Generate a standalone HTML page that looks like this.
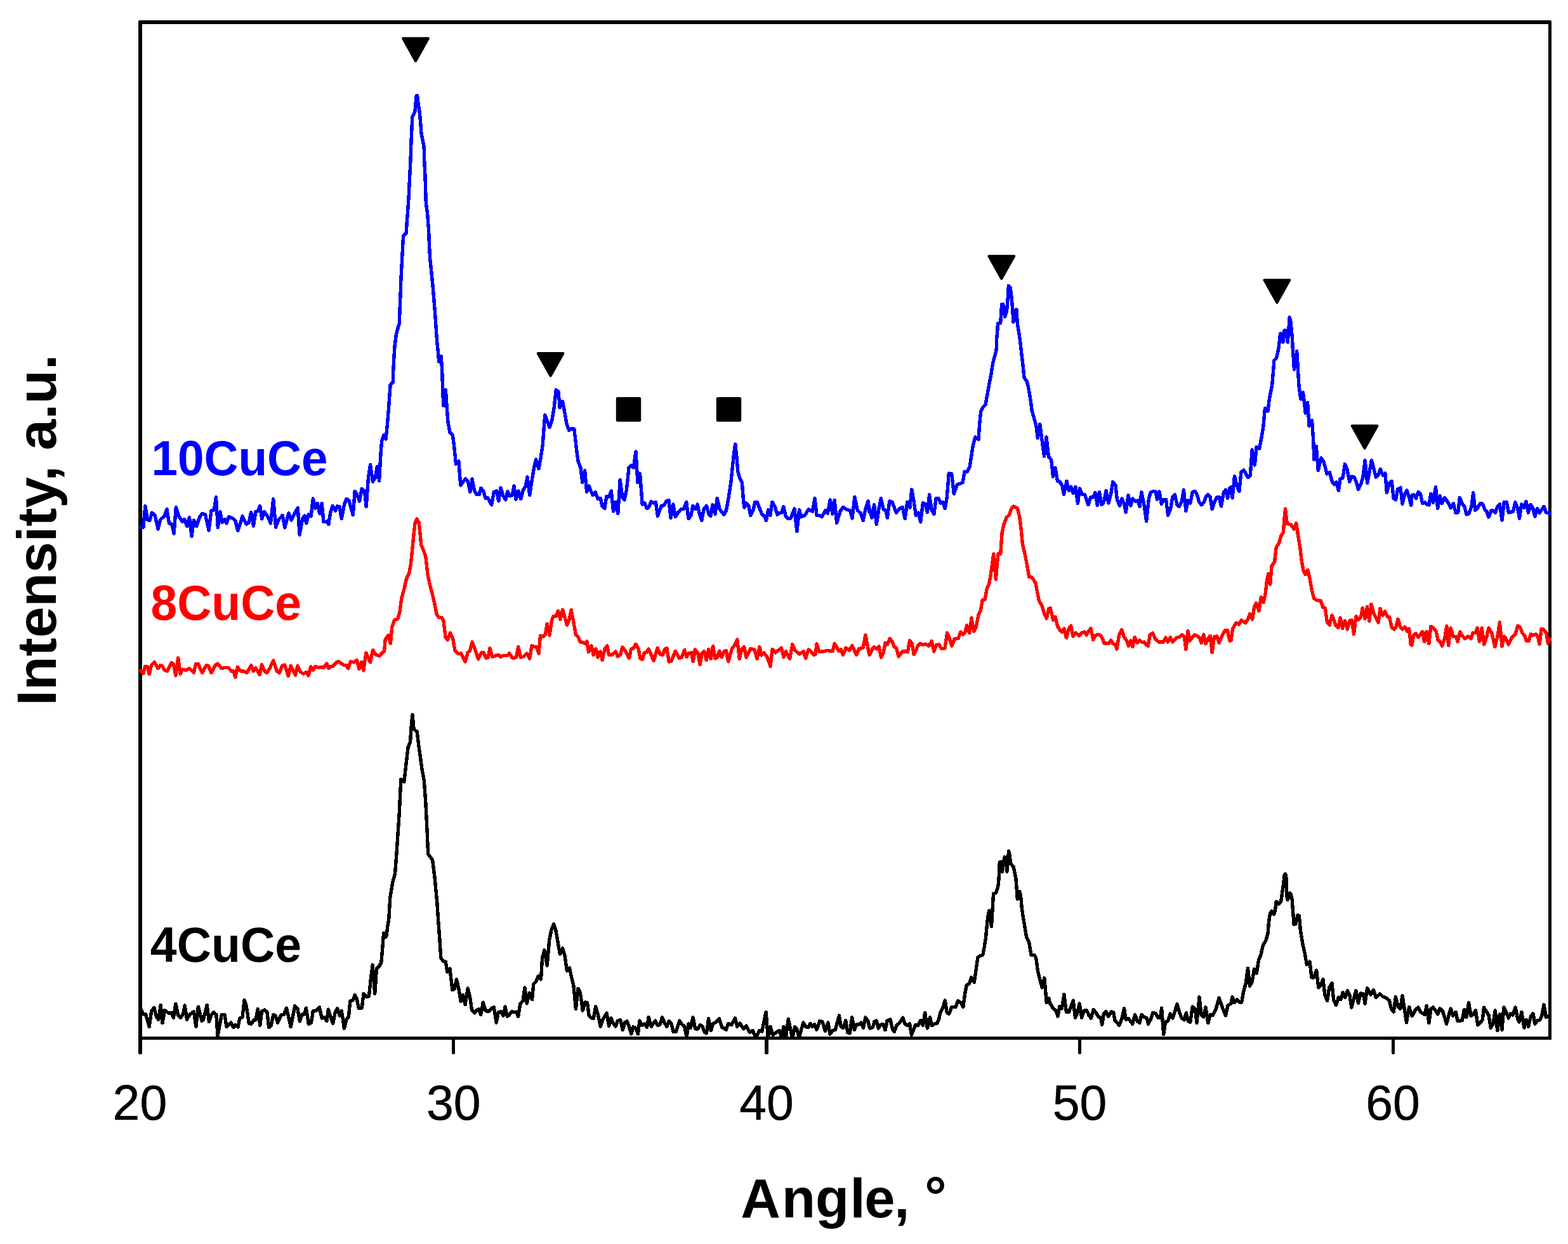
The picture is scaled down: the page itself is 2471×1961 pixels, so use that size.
<!DOCTYPE html>
<html lang="en">
<head>
<meta charset="utf-8">
<title>XRD patterns</title>
<style>
html,body{margin:0;padding:0;background:#fff;}
body{width:2471px;height:1961px;overflow:hidden;position:relative;font-family:"Liberation Sans",sans-serif;}
svg{position:absolute;left:0;top:0;display:block;}
text{font-family:"Liberation Sans",sans-serif;}
.b{font-weight:bold;}
.c{fill:none;stroke-width:5.4;stroke-linejoin:round;stroke-linecap:round;}
</style>
</head>
<body>
<svg width="2471" height="1961" viewBox="0 0 2471 1961" shape-rendering="crispEdges" text-rendering="optimizeLegibility">
<rect x="0" y="0" width="2471" height="1961" fill="#fff"/>
<defs><clipPath id="pa"><rect x="210" y="30" width="2240" height="1609"/></clipPath></defs>
<g fill="#000">
<rect x="218" y="33" width="6" height="1606"/>
<rect x="219" y="32" width="2225" height="6"/>
<rect x="2440" y="33" width="5" height="1606"/>
<rect x="218" y="1634" width="2227" height="5"/>
</g>
<g shape-rendering="crispEdges" clip-path="url(#pa)">
<polyline class="c" stroke="#000" points="221.4,1589.8 226.1,1598.9 229.6,1598.9 235.2,1618.4 238.7,1594 242.8,1588.4 246.3,1602.4 249.8,1607.2 253.3,1584.3 256,1612.8 259.5,1592.6 265.1,1596.8 270.7,1596.8 273.4,1604.4 276.9,1582.2 280.4,1599.6 284.6,1604.4 288.7,1598.2 291.2,1585 294.6,1607.2 298.5,1599.6 305.4,1594.7 308.9,1618.4 312.4,1587 318,1609.3 320.7,1606.5 326.3,1584.3 329.4,1610.7 333.3,1599.6 336.7,1596.1 340.9,1599.6 343,1633 349.3,1599.6 354.1,1599.6 356.9,1618.4 363.9,1612.1 368.1,1619.7 370.8,1615.6 375,1619 377.8,1605.1 382,1603.7 385,1576.6 388.2,1585.7 392.4,1613.5 395.9,1614.2 400.1,1607.9 402.8,1607.9 406.3,1590.5 409.8,1616.3 412.6,1594 416.8,1591.9 420.9,1595.4 423.7,1619.7 427.2,1616.3 430.7,1599.6 434.1,1601 437.6,1612.1 443.2,1599.6 447.4,1599.6 451.5,1589.1 458.2,1618.4 464.8,1585.7 468.9,1589.8 472.4,1610 475.9,1598.9 479.4,1598.9 482.4,1589.1 486.3,1614.2 490.5,1612.1 493.3,1594 499.5,1592.6 503.3,1587.7 507.2,1605.1 510,1603.7 515,1609.3 517.4,1591.2 520.9,1603.1 524.6,1613.5 528.5,1594.7 531.7,1589.8 535.5,1601 538.3,1593.3 542.4,1621.1 545.9,1607.2 549.4,1603.1 551.8,1578 556.4,1576.6 559.1,1568.3 561.9,1573.8 565.4,1589.1 570.3,1589.1 573,1566.2 577.9,1571.7 581.4,1570.4 584.2,1544.6 587.2,1521 590.7,1566.2 593.5,1526.5 597.4,1523.7 600.9,1516.8 603,1491.7 604.6,1470.9 606.4,1477.8 609.2,1475 610.6,1461.1 612.7,1450 614.7,1415.5 618.9,1390.2 622.5,1377.6 624.8,1348.2 627.3,1310.3 629.4,1278.8 630.9,1247.2 631.9,1228.3 636.8,1232.5 639.9,1205.2 643.1,1177.8 646.6,1169.4 647.9,1148.4 650,1126.3 652.1,1149.4 657.2,1153.6 659.9,1175.7 665.2,1213.6 668.3,1230.4 671,1268.2 673.1,1310.3 674.6,1346.1 681.6,1355.5 685.1,1383.9 688.7,1421.8 690.6,1450 692.7,1477.8 694.8,1509.8 698.3,1515.4 702.4,1516.1 704.8,1532.1 709,1527.2 712.9,1560.6 716.4,1558.5 719.4,1543.9 722.6,1557.1 726.1,1578.7 729.6,1568.3 733.1,1583.6 737.2,1557.8 740.7,1572.4 743.5,1591.9 747.7,1596.8 751.8,1591.9 754.6,1590.5 757.7,1599.6 761.3,1580.1 765.1,1593.3 769.9,1594.7 774.8,1589.1 778.3,1587.7 782.2,1612.1 785.2,1596.1 789.4,1594.7 792.9,1601 796.1,1587.1 799.2,1601.7 799.6,1602.1 802.4,1600 806.6,1594.4 810,1595.8 813.5,1595.1 816.7,1602.1 819.8,1582.6 824,1577.7 827,1556.9 830.2,1581.9 834.4,1565.2 838.6,1575.7 840.7,1551.3 844.8,1547.1 848.3,1538.8 852.5,1543.7 854.6,1509.6 858,1497.7 862.2,1522.1 865.7,1481.7 869.2,1465 872.7,1456.7 876.1,1467.8 882.4,1504 886.6,1495 890.1,1506.8 893.5,1530.4 897.4,1525.6 900.5,1540.2 904,1554.1 907.4,1590.3 910.9,1558.3 914.4,1565.2 918.3,1593.1 922.1,1579.8 925.5,1580.5 928.3,1601.4 931.1,1604.2 935.3,1605.6 938.7,1586.8 942.2,1598.6 946.4,1618.1 949.9,1607 956.1,1597.2 959.6,1617.4 963.1,1604.9 965.9,1612.5 970.1,1618.1 973.5,1609.1 977.7,1607.7 981.2,1623.7 984.7,1611.8 988.1,1609.8 990.9,1616.7 994.8,1629.9 997.9,1618.8 1001.4,1620.2 1005.5,1629.9 1008,1609.1 1011.8,1616 1016,1613.9 1019.5,1619.5 1022.2,1603.5 1026.4,1618.1 1032.7,1609.1 1036.6,1616.7 1040.3,1614.6 1043.5,1603.5 1047.3,1612.5 1050.8,1618.1 1054.2,1609.8 1057.7,1612.5 1061.2,1626.4 1065.4,1626.4 1070.9,1609.1 1075.1,1615.3 1078.6,1617.4 1082.1,1634.8 1085,1613.9 1088.1,1620.4 1092,1603.7 1095.7,1621.8 1099.9,1621.8 1103.4,1615.6 1106.9,1617.7 1110.4,1627.4 1113.4,1628.8 1116.6,1605.8 1120.4,1624.6 1123.6,1613.5 1128.4,1611.4 1133.3,1605.8 1137.5,1619 1141,1621.1 1144.4,1623.2 1147.6,1613.5 1152.8,1615.6 1158.4,1605.1 1161.8,1618.4 1166,1612.8 1171.6,1621.8 1176,1617 1181.3,1627.4 1186.2,1624.6 1191.1,1635.7 1196.6,1624.6 1200.8,1626 1207.1,1595.4 1210.5,1638.5 1214,1618.4 1218.2,1631.6 1223.1,1627.4 1227.9,1624.6 1232.1,1635.7 1234.9,1618.4 1238.4,1635.7 1242.3,1606.5 1248.8,1637.1 1252.6,1618.4 1255.8,1622.5 1259.2,1635.7 1265.9,1612.1 1270.4,1619 1273.8,1619.7 1277,1613.5 1280.1,1618.4 1283.6,1614.9 1287.1,1623.2 1291.9,1609.3 1296.1,1610.7 1300.3,1625.3 1304.9,1612.1 1307.9,1630.2 1312.1,1624.6 1316.3,1623.2 1322.5,1601 1325.3,1618.4 1328.8,1620.4 1332.7,1608.6 1335.8,1627.4 1339.2,1628.8 1342.7,1603.7 1346.6,1623.2 1349.7,1614.9 1353.8,1614.9 1357.3,1612.1 1360.5,1620.4 1363.9,1603.7 1367.8,1609.3 1370,1619 1371,1620.9 1375.2,1619.5 1378,1610.4 1381.2,1609.1 1384.2,1620.9 1387.7,1615.3 1391.5,1614.6 1395.1,1623.7 1398.1,1609.1 1403,1607 1406.5,1622.3 1409.3,1626.4 1412.7,1616.7 1417.6,1612.5 1422.8,1604.2 1426,1613.9 1430.1,1616.7 1433.6,1613.9 1436.4,1631.3 1442.7,1615.3 1446.8,1616.7 1451,1608.4 1454.5,1616.7 1457.7,1596.5 1461.4,1620.9 1465.6,1603.5 1468.4,1616.7 1473.3,1613.9 1476.7,1613.2 1479.5,1607 1481.6,1597.2 1485.8,1588.9 1489.3,1577.1 1492.1,1595.8 1495.5,1598.6 1499.7,1587.5 1506,1587.5 1509.4,1577.7 1514.3,1580.5 1517.8,1587.5 1520.6,1566.6 1523.4,1552.7 1527.5,1550.6 1530.6,1540.9 1535.2,1548.5 1537.3,1534.6 1540.8,1509.6 1544.2,1506.8 1548.7,1505.4 1551.2,1492.9 1553.3,1480 1555.2,1460.3 1556.6,1446.2 1558.7,1435.9 1562.5,1460.3 1564.7,1422.9 1565.5,1408.8 1569.2,1407.4 1571.5,1402.3 1573.4,1393.9 1574.3,1380.8 1575.3,1359.3 1577.6,1358.3 1579.5,1374.2 1581.3,1359.3 1583.2,1350.9 1585.3,1351.8 1586.8,1374.2 1588.4,1357.4 1589.6,1341.5 1591.2,1348.1 1592.6,1361.1 1597.2,1366.8 1599.1,1376.1 1601,1385.5 1602.4,1404.2 1603.3,1417.2 1607.1,1405.6 1608.9,1415.4 1610.3,1432.2 1612.2,1444.4 1614.1,1455.6 1615.9,1466.8 1617.7,1477.6 1621.5,1484.5 1624.9,1505.4 1629.8,1505.4 1632.6,1509.6 1635.4,1530.4 1638.8,1544.4 1642.3,1556.9 1645.8,1541.6 1649.3,1580.5 1652.8,1573.6 1655,1583.3 1656,1583.5 1660.2,1590.4 1664.3,1593.2 1667.1,1602.3 1669.9,1586.3 1673.4,1589.7 1676.9,1567.5 1680.4,1595.3 1684.5,1595.3 1688,1586.3 1691.2,1577.2 1694.5,1604.4 1697.7,1597.4 1701.2,1582.1 1704.7,1604.4 1708.2,1593.2 1712.4,1592.5 1715.8,1600.2 1719.3,1605.1 1723.1,1591.8 1727,1596 1731.1,1603 1734.6,1604.4 1736.7,1615.5 1739.5,1597.4 1743,1594.6 1746.9,1602.3 1751.3,1594.6 1754.8,1596 1756.9,1608.5 1763.8,1616.2 1768,1605.7 1771.5,1589.7 1774.3,1607.1 1778.4,1605.7 1784.7,1614.1 1788.6,1599.5 1792.4,1609.9 1795.8,1612.7 1799,1599.5 1803.5,1603.7 1807,1604.4 1809.5,1614.1 1813.2,1607.1 1816.7,1596.7 1820.9,1597.4 1825.1,1604.4 1828.5,1604.4 1830.6,1589 1833.7,1630.8 1836.5,1611.3 1840.4,1609.9 1844.3,1598.1 1848,1605.1 1851.5,1594.6 1855,1582.8 1859.1,1597.4 1862.6,1605.1 1866.1,1607.8 1869.3,1596.7 1872.4,1609.9 1875.8,1611.3 1879.3,1587 1883.5,1590.4 1886,1612.7 1890,1571.7 1893.2,1600.2 1896.7,1603 1899.9,1587.7 1903.7,1612.7 1907.1,1599.5 1911.3,1600.2 1916.2,1590.4 1921.1,1573 1926.6,1589 1931.5,1600.9 1935,1584.9 1940,1582.1 1942,1571.5 1945.2,1580.5 1949.3,1575.7 1953.5,1579.8 1956.7,1579.8 1959.8,1562.4 1963.3,1549.9 1966.5,1526.3 1969.5,1554.1 1973,1548.5 1976.5,1527.7 1980.4,1533.9 1983.4,1513.7 1986.9,1505.4 1990.4,1490.1 1994.6,1483.1 1998,1472 1999.3,1455.2 2000.7,1444.7 2002.1,1439.1 2003.8,1436.3 2007.7,1441.2 2009.4,1436.3 2010.4,1427.1 2011.2,1421.5 2013.3,1422.2 2015.4,1425 2018.2,1421.5 2019.5,1416.6 2020.3,1409.6 2021.7,1400.5 2023.1,1389.3 2024.2,1379.5 2025.6,1377.7 2027,1383.7 2027.9,1413.1 2029.1,1418.4 2032.6,1407.5 2034.3,1409.6 2036.1,1417.3 2037.1,1430.6 2038.2,1444.7 2039.2,1457.3 2041.7,1456.6 2045.2,1442.6 2047.3,1443.3 2048.4,1455.2 2049.5,1467.8 2053,1488.7 2056.5,1504 2059.3,1520.7 2064.1,1515.8 2066.9,1540.9 2070.4,1540.9 2074.6,1529.7 2077.8,1556.9 2081.5,1552.7 2085,1543.7 2087.8,1568 2091.6,1577.7 2094.8,1556.9 2098.9,1549.9 2101.7,1576.4 2105.5,1584.7 2109.4,1572.2 2112.8,1575.7 2116.3,1564.5 2119.8,1572.2 2123.3,1561.7 2126.8,1568 2129.8,1588.2 2133.7,1573.6 2136.8,1561.7 2140.4,1581.2 2144.1,1565.9 2148.3,1566.6 2151.1,1581.9 2154.6,1557.6 2160.1,1568 2164.6,1560.4 2168.2,1572.2 2174.8,1566.6 2179.6,1571.5 2183.1,1572.2 2189.4,1577.1 2192.8,1591 2196.3,1595.1 2199.4,1571.5 2203.3,1586.8 2206.8,1590.3 2210,1569.4 2213,1588.9 2216.5,1611.8 2220.7,1587.5 2225,1601.4 2227.1,1598.9 2230.8,1591.7 2235,1588 2238.6,1595.3 2242.2,1597.7 2245.2,1599.5 2248.2,1585.6 2251.9,1612.8 2254.9,1590.4 2258.5,1588 2262.1,1592.9 2265.7,1598.9 2269,1589.8 2273.6,1594.1 2279.6,1614 2283.2,1600.1 2286.2,1589.8 2289.8,1601.3 2294.1,1595.3 2297.1,1609.7 2301.3,1609.1 2304.3,1608.5 2307.3,1591.7 2311,1603.7 2314.6,1580.8 2318.2,1601.3 2321.8,1598.9 2325.4,1592.9 2328.8,1615.8 2332.7,1612.2 2336.3,1607.3 2338.4,1588 2342.9,1595.3 2345.9,1600.1 2349.3,1620.6 2353.2,1613.4 2356.2,1592.9 2359.8,1624.8 2363.4,1598.9 2367,1623.6 2369.8,1588 2373.7,1595.3 2377.3,1604.9 2380.9,1597.7 2383.9,1600.1 2388.1,1588 2391.8,1606.1 2394.2,1611 2397.8,1595.3 2402,1620 2405,1607.3 2408.6,1618.2 2412.3,1602.5 2415.9,1597.7 2418.9,1614 2423.1,1608.5 2426.7,1607.9 2429.7,1601.3 2433,1583.8 2436.4,1603.7 2440.2,1601.3 2442.6,1600.1"/>
<polyline class="c" stroke="#f00" points="221.4,1057.2 225.9,1061.4 228.9,1050.3 232.4,1051 235.2,1062.8 238.7,1048.2 243.5,1044 249.1,1053.7 252.6,1048.9 255.4,1049.6 259.5,1056.5 263.7,1057.9 270,1044.7 273.4,1046.8 276.9,1064.9 280.7,1037 284.3,1062.1 287.4,1055.1 292.9,1056.5 298.5,1053.7 305.4,1060 308.5,1046.8 312.4,1046.8 318.7,1060.7 324.9,1048.9 328.4,1049.6 333,1060.7 338.8,1049.6 343,1046.1 349.3,1053.7 354.1,1052.4 359.7,1052.4 364.6,1057.9 368.1,1057.9 370.8,1067.7 374.3,1051.7 379.2,1057.9 384.1,1057.9 388.9,1060.7 395.9,1048.9 399.4,1057.9 402.8,1053 409.1,1063.5 412.6,1047.5 416.1,1056.5 420.2,1060.7 425.1,1053.7 430.7,1041.2 436.2,1057.9 440.4,1060.7 444.6,1049.6 448.8,1048.2 454.3,1065.6 458.2,1049.6 461.3,1055.1 465.5,1064.2 468.9,1049.6 473.8,1059.3 478,1062.1 482.8,1059.3 486.3,1064.9 489.8,1051 493.3,1056.5 496.8,1050.3 501.6,1052.4 505.8,1051.7 510,1052.4 515,1046.1 517.7,1053.7 521.3,1050.4 524.5,1050.4 530.3,1043.9 533.6,1043 540.9,1048 545.8,1048.8 548.8,1053.7 552.4,1043 558.1,1043.9 562.5,1040.6 565.8,1054.5 569.6,1043.9 572.8,1057 576.9,1029.1 583.5,1043.9 587.6,1025 592.5,1032.4 598.2,1034 602.3,1029.1 605.6,1026.7 607.2,1007.9 612.1,1001.3 615.4,1014.4 617.8,988.2 621.9,976.8 626.8,975.9 630.1,963.7 632.6,944 636.7,929.3 640.4,912.9 644.8,903.1 647.3,890 649.8,865.5 652.2,840.9 654.2,823.7 657.1,818 660.1,823.7 662,840.9 663.7,858.9 668.6,870.4 671,878.6 673.8,904.7 677.6,922.7 681.7,937.5 684.9,952.2 688.2,968.6 691.5,973.5 696.4,973.5 698.9,978.4 702.1,1004.6 705.4,1008.7 709.5,998 713.6,1006.2 716.9,1025 721.8,1030.8 726.7,1030 733.2,1043 737.3,1028.3 740.6,1025.9 744.2,1011.9 748.8,1024.2 753.7,1039 758.6,1029.1 761.9,1028.3 766,1037.3 769.2,1036.5 772,1021.8 775.8,1035.7 781.5,1033.2 785.6,1032.4 788.9,1035.7 793.8,1033.2 800,1033.2 802.8,1029.9 807.3,1036.9 810,1037.6 813.5,1036.2 816.7,1019.5 820.5,1036.2 825.4,1034.8 830.2,1029.9 834.8,1038.3 837.9,1018.1 842,1019.5 845.5,1020.2 849,1029.9 851.5,1002.1 856,1003.5 859.4,1000 862.2,983.3 866,1001.4 869.2,979.8 872,971.5 876.1,971.5 879.6,963.1 883.1,976.4 886.6,961 893.5,985.4 896.3,979.8 900.2,961.7 904,981.2 907.4,1000.7 910.9,1003.5 914.4,1011.8 918.6,1012.5 922.1,1014.6 924.8,1011.1 927.6,1027.8 932.2,1018.1 935.3,1032.7 939.2,1023 942.2,1036.2 946.1,1027.1 949.2,1040.4 953.4,1021.6 956.8,1018.1 959.6,1032.7 963.8,1032.7 970.1,1027.1 973.5,1034.8 977.7,1032 980.9,1020.2 985.4,1025.7 991.6,1037.6 994.4,1023 997.9,1022.3 1002.1,1015.3 1006.2,1023 1009,1038.3 1012.5,1039.7 1015.3,1029.2 1018.8,1028.5 1022.2,1023 1026.4,1032.7 1030.2,1041.7 1036.1,1021.6 1040.3,1031.3 1044.5,1032.7 1047.3,1023.7 1050.8,1021.6 1054.2,1043.1 1057.7,1042.4 1064.4,1026.4 1070.2,1037.6 1074.4,1036.2 1078.6,1024.4 1082.1,1035.5 1085,1029.9 1089.5,1028.9 1092.3,1042.8 1095.3,1024 1099.9,1029.6 1103.1,1047.7 1106.2,1029.6 1109.7,1026.8 1113.1,1040.7 1116.6,1023.3 1120.1,1038.6 1123.6,1018.4 1127,1037.9 1130.5,1036.5 1133.7,1026.1 1137.5,1035.8 1141,1026.8 1144.4,1025.4 1147.6,1042.8 1153.5,1022.6 1158.4,1015.7 1161.8,1008 1165.3,1038.6 1168.8,1023.3 1172.7,1019.8 1176,1036.5 1182.7,1022.6 1189,1024 1193.1,1038.6 1196.9,1019.8 1200.1,1033 1203.9,1028.9 1209.1,1035.8 1214,1050.4 1217.2,1023.3 1221.7,1028.9 1226.5,1025.4 1231.4,1021.2 1234.9,1035.8 1238.6,1026.8 1244.6,1038.6 1248.8,1015.7 1253,1025.4 1259.9,1031 1266.2,1026.8 1269.7,1037.9 1273.8,1024 1277.3,1026.1 1282.2,1032.4 1285,1031.7 1287.1,1015 1291.2,1027.5 1298.2,1026.8 1303.8,1025.4 1312.1,1026.8 1315.2,1014.3 1321.8,1026.1 1325.3,1024 1328.5,1032.4 1333,1021.2 1338.5,1025.4 1343,1017.7 1349.7,1032.4 1353.8,1022.6 1360.1,1021.2 1363.9,1001 1367.8,1021.2 1370,1032.4 1370.8,1031.7 1374.7,1023 1377.9,1019.9 1381.8,1023 1385,1019.1 1388.5,1036.4 1392.1,1029.3 1395.2,1013.5 1398.4,1015.9 1402.3,1006.4 1406.3,1012 1409.4,1019.9 1412.6,1021.4 1416.2,1034.9 1422.1,1027 1426.8,1027 1430.4,1027.8 1433.6,1009.6 1437.1,1014.3 1440.2,1031.7 1446.5,1018.3 1450.5,1014.3 1454.4,1016.7 1458.4,1015.1 1463.9,1018.3 1468.3,1010.4 1471.8,1027 1475.7,1016.7 1479.7,1015.9 1483.6,1022.2 1489.1,1022.2 1492.6,997.8 1496.2,1005.7 1499.9,1018.3 1504.1,1007.2 1510.4,1006.4 1513.6,996.2 1517.5,1000.1 1520.7,997 1523.5,985.9 1527.8,997.8 1531,974.1 1534.6,995.4 1538.1,988.3 1542,969.4 1545.2,963.1 1548.3,945.7 1552.3,944.9 1555.1,928.3 1558.6,921.2 1561.7,903.1 1565.7,873.1 1569.3,913.3 1572.8,873.1 1576.7,873.1 1579.1,840 1582.2,825.8 1586.2,815.5 1590.1,812.3 1594.1,801.3 1597.5,798.1 1603.5,801.3 1606.7,814.7 1609.1,833.7 1611.4,857.3 1615.4,874.7 1618.5,890.5 1621.7,909.4 1626.4,910.2 1631.9,918.9 1634.3,931.5 1637.5,947.3 1642.2,955.2 1645.4,966.2 1649.3,974.9 1652.5,959.9 1655,958.3 1656.7,964 1659.5,977.2 1663,972.4 1666.4,986.3 1669.9,993.2 1673.4,996 1676.9,991.1 1680.6,1005.7 1684.5,990.4 1687.6,986.3 1690.8,1003 1695,997.4 1700.5,1002.3 1704.7,997.4 1708.9,996 1712.1,1000.9 1715.8,994.6 1719,990.4 1722.8,1008.5 1726.3,1001.6 1730.4,1000.2 1734.6,1001.6 1738.1,1007.8 1740.2,1014.1 1744.4,1014.1 1747.1,1014.8 1750.6,1009.2 1754.1,1014.8 1757.6,1015.5 1759.9,1023.1 1763.8,1000.2 1767.7,992.5 1771.5,1004.4 1775.7,1009.9 1778.4,1018.3 1781.9,1009.9 1784.7,1019.7 1788.2,1004.4 1792.4,1013.4 1795.8,1009.2 1800,1012.7 1802.8,1012 1809.1,1018.3 1812.5,1000.2 1816.7,998.1 1820.9,1007.8 1826.4,1012 1833.4,1012 1836.9,1005.1 1840.4,1012 1844.3,1004.4 1848,1012 1854.3,1005.1 1858.4,1004.4 1862.6,1000.9 1866.1,1003 1868.9,1023.8 1872.1,994.6 1875.1,1009.9 1882.1,1000.9 1887,1002.3 1890.5,1005.7 1893.2,1013.4 1896.7,1000.2 1899.9,1014.8 1903.7,1007.1 1907.1,1002.3 1910.2,1028.7 1913.4,1003.7 1917.6,1003 1921.1,1013.4 1925.2,1003.7 1930.8,993.2 1934.3,993.2 1937.8,1009.9 1940,1009.9 1942.5,991.2 1947.8,982.1 1952.4,984.4 1956.2,977.6 1963,982.1 1966.8,975.3 1969.8,967.7 1973.6,976 1976.7,956.3 1979.7,951 1984,963.1 1987.3,941.1 1991.1,949.5 1994.1,935.8 1996.4,915.3 1998.7,904.6 2001.7,921.3 2004,892.5 2008.6,885.6 2011.3,862.1 2015.4,856.7 2018.5,845.3 2022.3,839.3 2024.1,816.5 2025.6,802 2028.3,825.6 2034.4,827.1 2039.3,834 2042.8,824.8 2045.8,845.3 2048.9,863.6 2051.1,883.3 2054.2,900.1 2057.2,905.4 2061,898.5 2064.1,912.2 2067.1,928.9 2070.6,943.4 2075.5,946.4 2081.5,947.2 2084.6,957.1 2088.4,958.6 2091.4,980.6 2095.2,985.2 2099,970 2102.1,976.8 2105.1,985.9 2108.9,989.7 2112.2,973.8 2115.7,990.5 2119.5,978.3 2123.3,992 2127.1,978.3 2130.2,977.6 2133.5,999.6 2137,971.5 2140.8,976.8 2144.6,973 2147.2,958.6 2151,975.3 2154.5,956.3 2157.8,979.1 2160.9,952.5 2164.4,965.4 2168.2,973 2172,981.4 2175,959.3 2178.8,970 2182.6,963.9 2186.4,972.2 2189.7,973 2193.2,989 2197,992 2200.1,988.2 2203.1,976 2206.9,989 2210,992 2213.8,988.2 2217.6,995 2220.6,991.2 2223.2,1015.6 2225,1017.1 2227.7,1002 2231.1,998.4 2235,1004.4 2238.6,1000.2 2241.6,995.4 2244.6,1011.7 2248,995.4 2251.9,1014.7 2254.9,987.5 2259.1,989.9 2263.3,995.4 2266.1,1009.2 2269.3,1011.1 2272.4,1018.3 2276.6,1006.8 2279.8,986.9 2282.6,1017.7 2286.2,989.9 2289.8,1003.2 2294.7,1003.2 2297.1,1011.7 2300.7,996 2304.3,1002 2308.5,1006.8 2313.4,1003.2 2318.2,1006.8 2321.2,997.2 2325.4,997.2 2328.1,989.9 2331.5,1011.1 2335.3,989.9 2338.7,1015.9 2342.9,1003.2 2345.9,989.9 2350.7,997.2 2355.8,1019.5 2359.8,1004.4 2363.4,980.9 2367,1018.9 2370.3,1003.2 2373.7,1008 2377.3,1015.9 2382.1,1005.6 2388.1,999.6 2391.8,986.3 2395.4,988.7 2399,997.8 2402.6,1002 2405.6,1010.4 2409.2,1010.4 2412.3,999.6 2415.9,1001.4 2420.7,999.6 2423.7,1004.4 2426.1,1015.3 2429.1,991.2 2432.8,992.4 2437,998.4 2439.4,1014.1 2442.6,1008"/>
<polyline class="c" stroke="#00f" points="221.4,830.4 225.9,831.1 228.9,797.7 232.4,819.3 235.9,820.7 239.3,808.2 244.2,812.4 249.1,833.9 252.6,819.3 259.5,813 263,802.6 266.5,824.9 270.7,826.3 274.1,840.9 277.3,799.8 281.8,813.7 287.4,822.1 290.8,818.6 294.6,829.7 298.5,815.8 302,845.7 305.4,820 309.6,829.7 314.5,815.1 318.7,809.6 323.5,811 329.1,836 333,804.7 337.4,804 340.5,783.8 343.3,831.8 346.9,806.8 350,823.5 354.1,818.6 356.9,824.9 360.8,814.4 368.1,817.9 370.8,820.7 374.7,836.7 379.2,823.5 382,813.7 388.2,826.3 392.4,823.5 395.6,807.5 399.4,829 402.8,806.8 406.3,805.4 409.8,797.7 412.6,817.9 416.5,806.8 422.3,815.1 426.5,824.9 430.7,786.6 434.6,831.1 439,819.3 445.3,812.4 448.8,831.8 455,808.9 459.2,820 464.8,808.2 469.3,800.5 472.1,843 476.6,817.9 480.1,813 482.8,824.9 486.3,811 490.2,813.7 493.3,785.9 496.8,801.2 500.2,793.6 503.7,809.6 507.2,793.6 510,822.8 515,822.1 517.8,826.5 520.8,807.5 524.1,797.3 528.5,805.3 531.4,798 535.1,798.7 538.3,817.7 542.4,795.8 546,786.3 549.7,788.5 556.3,811.9 559.2,774.6 562.1,778.3 566.5,790 570.1,770.2 574.5,774.6 577.2,798.7 580.4,753.4 583.6,732.3 587.4,759.3 591.3,753.4 594.3,735.2 597.6,757.8 600.1,714 601.6,695 604.5,686.2 608.1,692.1 610.3,670.1 612.5,643.8 614,621.9 615.2,606.7 619.2,602.3 619.9,581.8 621.1,559.9 622.1,545.3 624.3,527.8 626.5,519 629.4,510.2 630.1,486.9 631.1,463.5 631.9,440.1 633,419.7 634.1,399.2 635.2,378.8 635.7,371.8 640.1,367.4 641.1,352.1 642.5,334.5 644,312.6 645,290.7 646.2,268.8 647.2,246.9 647.9,225 649.1,200.1 649.8,184.1 653.8,176 655,163.6 656.1,151.2 657.6,150.5 659.3,165.1 660.8,173.8 662.3,188.4 664,210.4 668.1,230.8 668.8,254.2 669.9,276.1 670.6,298 671.3,319.9 673.7,337.5 675.1,356.4 675.9,370 676.4,384.6 677.6,406.5 679.8,428.4 682,450.4 683.9,472.3 685.6,494.2 687.1,516.1 688.6,538 690.8,558.5 691.5,570.1 695.1,561.4 696.6,581.8 697.3,603.7 698.7,639.5 702.4,614.6 704.3,643.8 706,665.8 709,681.8 713.4,686.2 715.5,702.3 718.5,731.5 722.9,727.1 725.8,765.1 729.4,760 733.5,754.9 737.5,759.3 740.8,775.4 744,754.9 747.7,773.9 751.4,779.7 755,779.7 757.9,769.5 761.6,773.9 765.2,785.6 768.9,784.9 774.7,795.8 778.4,775.4 782.8,773.9 785.7,790 789.1,768.8 792.7,781.2 796.7,787.8 800,774.6 803.3,781.9 806.9,781.2 810.1,765.9 813.1,787.1 816.9,773.9 820.8,786.3 824.5,772.4 828.1,766.6 831,752 834.7,780.5 837.6,760.7 841.3,738.8 844.6,724.2 849,738.8 852.2,721.3 855.1,702.3 857.3,673.1 858.8,654.1 862.5,664.3 866.1,673.8 869.8,662.8 873.4,640.9 876.3,614.6 880,617.5 882.2,642.4 886.6,632.9 889.5,648.2 893.1,668.7 896.8,678.2 900.4,676 904.8,676 907,695 909.2,714 911.4,728.6 915.1,737.4 917.7,760.7 921.6,741.8 924.6,775.4 928.2,765.9 931.1,773.9 934.1,780.5 938.4,776.1 942.1,786.3 946.5,785.6 948.7,797.3 952.8,801.7 955.7,782.7 959.6,783.4 963.3,773.9 966.5,806 970.3,791.4 973.8,809.7 977.2,756.4 980.8,784.1 984,787.8 987.4,772.4 991,737.4 994.7,733.7 998.4,737.4 1002,711.8 1004.9,760.7 1008.6,746.9 1012.2,795.1 1015.9,792.9 1019.5,801.7 1022.9,798.7 1026.1,790.7 1029.8,792.9 1033.4,791.4 1036.4,813.4 1042.2,797.3 1046.6,796.6 1050.2,790 1053.9,788.5 1057.1,816.3 1060.9,795.1 1064.4,814.8 1068.5,808.2 1073.6,802.4 1077.3,802.4 1081.7,791.4 1085,817.7 1085.3,817.7 1089,811.9 1091.9,797.3 1096,802.4 1099.2,795.1 1102.4,810.4 1105.8,820.7 1109.2,802.4 1113.5,797.3 1117.1,810.4 1120,813.4 1122.9,795.8 1127,810.4 1130.2,785.6 1134.3,803.1 1140.9,811.2 1144.5,804.6 1148.2,784.1 1151.8,760.7 1154.8,731.5 1157,711.1 1158.8,700.1 1161.3,724.2 1162.8,743.2 1165.7,753.4 1169.4,760.7 1171.6,790 1173,800.2 1175.9,792.9 1179.6,796.6 1182.8,812.6 1186.9,804.6 1189.8,791.4 1193.5,791.4 1197.1,801.7 1200.8,810.4 1204.4,813.4 1207.4,820.7 1210.6,803.9 1213.9,812.6 1216.9,791.4 1221.2,798.7 1224.9,811.2 1228.6,808.2 1231.5,808.2 1234.8,798.7 1238.1,813.4 1242.4,817.7 1246.1,817 1251.9,801.7 1255.9,837.5 1259.5,803.9 1262.9,814.8 1268.7,811.9 1273.9,803.1 1277.5,804.6 1280.4,806 1284.1,785.6 1287,812.6 1291.4,812.6 1295,814.8 1300.9,804.6 1304.5,809 1308.2,787.8 1311.9,810.4 1315.2,788.5 1318.7,824.3 1324.3,805.3 1328.7,799.5 1333.8,803.1 1339.6,804.6 1343,817 1346.9,783.4 1351.3,804.6 1356.4,809 1360.1,820.7 1364.5,800.2 1368.1,790 1370,807.5 1370.3,801.7 1374,816.3 1377.7,795.8 1381.3,826.5 1385,801.7 1388.3,785.6 1392.3,803.1 1395.9,804.6 1398.4,816.3 1401.8,790 1406.1,791.4 1412.3,808.2 1417.8,801.7 1422.2,799.5 1426.2,817.7 1429.8,791.4 1433.9,800.2 1436.8,771.7 1440.1,790 1443.4,812.6 1447.4,808.2 1450.7,822.9 1454.4,792.9 1458,794.4 1461.4,807.5 1464.6,779.7 1468.3,804.6 1471.9,810.4 1475.1,785.6 1478.9,785.6 1482.1,792.9 1485.8,791.4 1489.4,801.7 1492.4,782.7 1495.3,746.1 1499.7,746.9 1503.3,778.3 1508.4,763.7 1513.6,762.2 1517.2,760.7 1520.1,743.2 1523.8,743.9 1528.2,735.9 1530.4,721.3 1533.3,702.3 1536.9,689.1 1542.1,692.8 1543.5,670.1 1545.7,648.2 1549.4,641.6 1553,638 1555.9,621.9 1559,604.7 1562,589.5 1564.3,574.3 1567.2,562.6 1570.1,552.1 1570.7,534.6 1571.9,519.4 1572.5,510 1576.6,509.4 1577.7,494.8 1578.6,479.6 1580.7,479.6 1583.6,499.5 1586.5,490.1 1588.3,469.1 1589.4,450.4 1592.3,453.9 1594.1,469.1 1595.9,490.1 1596.8,507.7 1599.9,489 1601.9,487.8 1603.4,511.2 1605.8,525.2 1608.1,541.6 1609.9,557.9 1612,575.5 1614,595.3 1618.1,601.2 1620.4,609.4 1623.9,629.2 1626.1,646.8 1629.7,659.9 1632.7,670.1 1635.3,690.6 1638.8,668.7 1642.2,695 1645.5,719.1 1649,689.1 1652.4,719.8 1655,722.8 1656.7,724.9 1659.5,751.3 1663,737.4 1666.4,758.3 1670.6,759.7 1674.1,766.6 1676.5,779.1 1681,758.3 1684.5,773.6 1687.6,767.3 1691.2,777.7 1695,767.3 1698.4,793.7 1701.5,770.1 1705.4,779.1 1709.6,779.8 1715.1,795.8 1718.6,784 1722.8,784 1726,776.4 1729.3,796.5 1732.5,775.7 1736,795.8 1739.5,791.7 1743.2,773.6 1746.9,793.1 1750.6,779.1 1753.8,759.7 1758,765.2 1760.4,787.5 1764.5,797.2 1768,786.1 1771.5,794.4 1774.3,807.7 1778,780.5 1781.9,797.2 1785,786.1 1789.6,790.3 1793.1,788.9 1796.1,798.6 1798.9,775.7 1802.5,793.1 1806.6,821.6 1810.4,786.1 1813.2,776.4 1818.1,774.3 1820.9,775 1823.7,787.5 1827.1,775 1830.3,794.4 1833.4,787.5 1837.6,787.5 1840.6,812.5 1844.5,802.8 1848,783.3 1851.5,779.8 1855,795.8 1858.4,798.6 1862.3,790.3 1865.4,772.2 1868.9,805.6 1872.1,788.9 1875.8,793.1 1879.3,775.7 1882.8,774.3 1886.3,779.1 1889.8,791.7 1893.5,795.8 1897.4,791.7 1900.2,783.3 1903.7,779.8 1907.1,783.3 1910.2,802.8 1914.1,790.3 1917.6,784 1921.1,783.3 1924.5,797.9 1928.3,776.4 1931.5,772.2 1934.7,785.4 1937.8,769.4 1940,768 1942.2,784.9 1945.5,750.5 1949.1,765.1 1952.8,774.6 1956,743.9 1960.1,741 1966.6,752.7 1970.3,749.1 1973.2,708.9 1977.3,733 1980.2,704.5 1984.6,707.4 1987.8,690.6 1990.8,673.1 1993.4,643.8 1998.1,648.2 2000.3,629.2 2003.2,614.6 2004.8,605.9 2006.1,591 2007,579.6 2007.9,568.2 2011.4,564.7 2013.6,555.9 2015.3,547.2 2016.5,535.8 2017.5,526.1 2019.7,526.1 2022.1,539.3 2024.1,520.9 2026.3,520.9 2029.3,539.3 2031.1,515.6 2032.2,499.8 2033.7,505.1 2035,518.2 2036.4,531.4 2037.2,548.9 2038.5,566.4 2039.4,582.2 2042.1,570.8 2043.6,553.3 2045.1,575.2 2046,592.7 2046.9,606.8 2047.8,614.6 2049.9,629.2 2053.6,619 2057.3,651.1 2060.6,634.3 2063.1,671.6 2067.5,662.8 2069.7,693.5 2070.8,724.2 2074.3,703.8 2077.3,741.8 2081.7,722 2085.7,727.1 2088.7,737.4 2090.9,746.9 2095.2,744.7 2099.6,760 2102.6,763.7 2105.9,760 2109.4,773.2 2112.1,754.9 2116.1,753.4 2119.4,731.5 2123,740.3 2126.7,759.3 2130.3,751.2 2134,752 2137.6,760.7 2140.5,771.7 2144.9,762.2 2147.9,752 2151.2,725.7 2154.7,761.5 2158.1,743.9 2161.4,725.7 2165.4,740.3 2168.3,752 2172,749.1 2175.2,739.6 2179.3,749.1 2182.9,746.1 2185.4,776.8 2189.5,761.5 2193.2,758.6 2196.1,785.6 2199.7,787.8 2202.7,771 2207,768.8 2210,794.4 2213.6,779.7 2217,773.2 2220.9,784.9 2223.8,796.6 2225,781.2 2227.7,779.7 2231.6,785.7 2235,775.5 2238.6,779.1 2241.6,793.6 2245.2,791.8 2248.8,795.4 2251.9,796 2254.9,778.5 2258.5,792.4 2262.5,767.6 2265.7,801.4 2269,781.5 2272.4,793.6 2276.6,784.5 2282,792.4 2286.2,800.8 2290.4,793.6 2294.1,808.6 2297.7,808 2300.3,784.5 2304.9,794.8 2307.9,798.4 2311,811.1 2314.6,809.8 2318.8,799.6 2321.6,776.7 2324.8,804.4 2327.8,802 2332.7,793.6 2336.3,794.2 2339.9,803.2 2342.9,806.2 2345.9,815.3 2350.1,805 2353.2,805 2356.5,808 2359.8,798.4 2363.4,794.8 2367,820.1 2370.3,791.2 2374.3,791.2 2377.5,808 2380.9,807.4 2384.5,806.2 2387.9,791.8 2391.8,802 2394.4,817.1 2397.8,794.8 2401.4,800.2 2405,790.5 2408.4,808 2412.3,795.4 2415.9,802 2418.9,814.1 2422.5,801.4 2426.1,808.6 2429.7,803.2 2433,798.4 2436.4,808 2440,808.6 2442.6,809.2"/>
</g>
<g fill="#000">
<path d="M218,1638h6v23h-1v1h-4v-1h-1z"/>
<path d="M712,1638h5v23h-1v1h-3v-1h-1z"/>
<path d="M1205,1638h6v23h-1v1h-4v-1h-1z"/>
<path d="M1699,1638h5v23h-1v1h-3v-1h-1z"/>
<path d="M2193,1638h5v23h-1v1h-3v-1h-1z"/>
</g>
<g font-size="75" text-anchor="middle" fill="#000" stroke="#000" stroke-width="0.5">
<text transform="translate(220.4,1764.9) scale(1.026,1.04)">20</text>
<text transform="translate(714.7,1764.9) scale(1.026,1.04)">30</text>
<text transform="translate(1208,1764.9) scale(1.026,1.04)">40</text>
<text transform="translate(1701.5,1764.9) scale(1.026,1.04)">50</text>
<text transform="translate(2195,1764.9) scale(1.026,1.04)">60</text>
</g>
<text class="b" transform="translate(1328.4,1919) scale(0.987,1)" font-size="88" text-anchor="middle" fill="#000" dx="1.1 1.9 0 1.5 -1.5 -1.2 0 -0.7" dy="0 0 0 0 0 0 0 -3">Angle, °</text>
<text class="b" transform="translate(88.1,835.5) rotate(-90) scale(0.996,1)" font-size="88" text-anchor="middle" fill="#000">Intensity, a.u.</text>
<text class="b" transform="translate(238.5,749) scale(0.996,1.03)" font-size="75" fill="#00f">10CuCe</text>
<text class="b" transform="translate(237.5,977) scale(1,1.03)" font-size="75" fill="#f00">8CuCe</text>
<text class="b" transform="translate(236.8,1516.2) scale(1.003,1.03)" font-size="75" fill="#000">4CuCe</text>
<g fill="#000" shape-rendering="geometricPrecision">
<path d="M635.1,60.6h39.8l-19.9,35.6z" stroke="#000" stroke-width="4" stroke-linejoin="round"/>
<path d="M847.7,556.9h39.8l-19.9,35.6z" stroke="#000" stroke-width="4" stroke-linejoin="round"/>
<path d="M1558.4,403.7h39.8l-19.9,35.6z" stroke="#000" stroke-width="4" stroke-linejoin="round"/>
<path d="M1992.5,441.5h39.8l-19.9,35.6z" stroke="#000" stroke-width="4" stroke-linejoin="round"/>
<path d="M2130.7,671.2h39.8l-19.9,35.6z" stroke="#000" stroke-width="4" stroke-linejoin="round"/>
<rect x="973.3" y="628.4" width="34.4" height="33.8" stroke="#000" stroke-width="5" stroke-linejoin="round"/>
<rect x="1131.3" y="628.4" width="34.4" height="33.8" stroke="#000" stroke-width="5" stroke-linejoin="round"/>
</g>
</svg>
</body>
</html>
